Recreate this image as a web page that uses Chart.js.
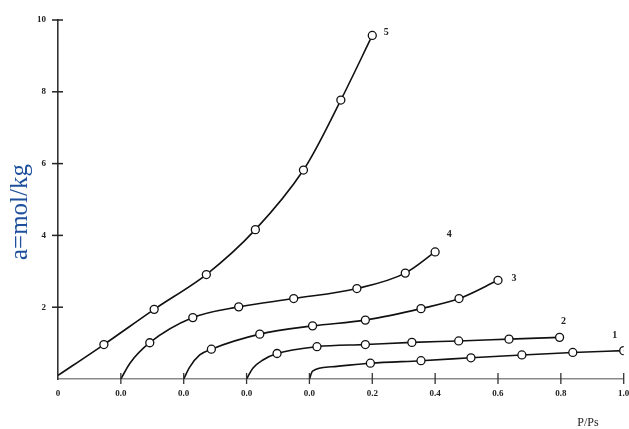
<!DOCTYPE html>
<html>
<head>
<meta charset="utf-8">
<script src="https://cdn.jsdelivr.net/npm/chart.js@4.4.0/dist/chart.umd.min.js"></script>
<style>
  html, body { margin: 0; padding: 0; background: #fff; }
  #wrap { width: 629px; height: 429px; }
</style>
</head>
<body>
<div id="wrap"><canvas id="myChart"></canvas></div>
<script>
/*DATA - P/Ps of each isotherm from its own origin, a in mol/kg*/
const curveNames = ['1', '2', '3', '4', '5']
const shift = [0.8, 0.6, 0.4, 0.2, 0]          // each curve starts 0.2 further left
const xTickLabels = ['0', '0.0', '0.0', '0.0', '0.0', '0.2', '0.4', '0.6', '0.8', '1.0']

const p1 = [0, 0.01, 0.07, 0.194, 0.355, 0.514, 0.676, 0.838, 1.0]
const a1 = [0, 0.22, 0.34, 0.44, 0.51, 0.59, 0.67, 0.74, 0.79]
const p2 = [0, 0.02, 0.052, 0.097, 0.224, 0.378, 0.526, 0.675, 0.835, 0.996]
const a2 = [0, 0.30, 0.53, 0.71, 0.90, 0.96, 1.02, 1.06, 1.11, 1.16]
const p3 = [0, 0.019, 0.051, 0.088, 0.242, 0.41, 0.578, 0.755, 0.876, 1.0]
const a3 = [0, 0.33, 0.67, 0.83, 1.25, 1.48, 1.64, 1.96, 2.24, 2.75]
const p4 = [0, 0.029, 0.092, 0.229, 0.375, 0.55, 0.751, 0.905, 1.0]
const a4 = [0, 0.44, 1.01, 1.71, 2.01, 2.24, 2.52, 2.95, 3.54]
const p5 = [0, 0.146, 0.306, 0.472, 0.628, 0.781, 0.90, 1.0]
const a5 = [0.1, 0.96, 1.94, 2.91, 4.16, 5.82, 7.77, 9.57]

// leading points that only trace the curve (no circle drawn)
const lead = [3, 3, 3, 2, 1]

const ps = [p1, p2, p3, p4, p5]
const as = [a1, a2, a3, a4, a5]

/*DATASETS*/
const datasets = ps.map((p, i) => ({
    label: curveNames[i],
    data: p.map((v, j) => ({ x: v + shift[i], y: as[i][j] })),
    borderColor: '#111',
    borderWidth: 1.6,
    backgroundColor: '#fff',
    pointBorderColor: '#111',
    pointBackgroundColor: '#fff',
    pointBorderWidth: 1.3,
    pointRadius: ctx => ctx.dataIndex < lead[i] ? 0 : 4,
    // the steep curve 5 looks smoother with plain bezier tension
    cubicInterpolationMode: i === 4 ? 'default' : 'monotone',
    tension: i === 4 ? 0.3 : 0,
    fill: false
}))

const serif = "'Liberation Serif', 'DejaVu Serif', serif"

/*EXTRA DRAWING: crossing ticks, titles, curve numbers*/
const decor = {
    id: 'decor',
    afterDraw(chart) {
        const c = chart.ctx
        const xs = chart.scales.x, ys = chart.scales.y
        const x0 = xs.getPixelForValue(0), y0 = ys.getPixelForValue(0)
        c.save()
        // y ticks
        c.strokeStyle = '#222'
        c.lineWidth = 1.5
        for (let v = 2; v <= 10; v += 2) {
            const py = ys.getPixelForValue(v)
            c.beginPath(); c.moveTo(x0 - 6, py); c.lineTo(x0 + 5, py); c.stroke()
        }
        // x ticks
        c.strokeStyle = '#333'
        c.lineWidth = 1.3
        for (let k = 1; k < xTickLabels.length; k++) {
            const px = xs.getPixelForValue(k * 0.2)
            c.beginPath(); c.moveTo(px, y0 - 6); c.lineTo(px, y0 + 5); c.stroke()
        }
        // axis titles
        c.fillStyle = '#1d4f9c'
        c.font = '25px ' + serif
        c.translate(27, 212)
        c.rotate(-Math.PI / 2)
        c.textAlign = 'center'
        c.textBaseline = 'alphabetic'
        c.fillText('a=mol/kg', 0, 0)
        c.setTransform(1, 0, 0, 1, 0, 0)
        c.fillStyle = '#222'
        c.font = '12px ' + serif
        c.textAlign = 'center'
        c.fillText('P/Ps', 588, 426)
        // curve numbers next to the last point
        const off = [[-9, -15], [4, -16], [16, -2], [14, -17], [14, -3]]
        c.font = 'bold 10px ' + serif
        c.textBaseline = 'middle'
        datasets.forEach((d, i) => {
            const last = d.data[d.data.length - 1]
            c.fillText(curveNames[i], xs.getPixelForValue(last.x) + off[i][0], ys.getPixelForValue(last.y) + off[i][1])
        })
        c.restore()
    }
}

/*CHART*/
const ctx = document.getElementById('myChart').getContext('2d')
const myChart = new Chart(ctx, {
    type: 'line',
    data: { datasets: datasets },
    options: {
        responsive: true,
        maintainAspectRatio: false,
        animation: false,
        layout: { padding: { top: 20, right: 4, left: 0, bottom: 0 } },
        plugins: { legend: { display: false }, tooltip: { enabled: false } },
        scales: {
            x: {
                type: 'linear',
                min: 0,
                max: 1.8,
                afterFit(s) { s.height = 50; s.paddingLeft = 0; s.paddingRight = 0 },
                border: { color: '#8a8a8a', width: 1.6 },
                grid: { display: false, drawTicks: false },
                ticks: {
                    stepSize: 0.2,
                    padding: 9,
                    maxRotation: 0,
                    autoSkip: false,
                    color: '#222',
                    font: { family: serif, size: 9, weight: 'bold' },
                    callback: (v, idx) => xTickLabels[idx]
                }
            },
            y: {
                min: 0,
                max: 10,
                afterFit(s) { s.width = 58; s.paddingTop = 0; s.paddingBottom = 0 },
                border: { color: '#333', width: 1.6 },
                grid: { display: false, drawTicks: false },
                ticks: {
                    stepSize: 2,
                    padding: 12,
                    color: '#222',
                    font: { family: serif, size: 9, weight: 'bold' },
                    callback: v => v === 0 ? '' : v
                }
            }
        }
    },
    plugins: [decor]
})
</script>
</body>
</html>
